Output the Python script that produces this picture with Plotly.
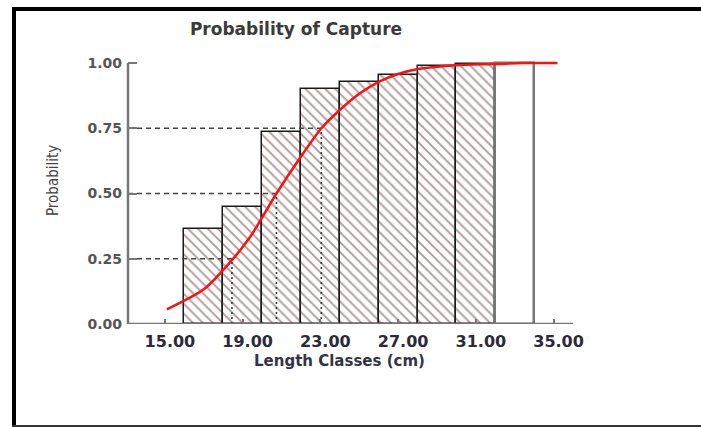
import plotly.graph_objects as go

# ---- data ----
class_mid = [17, 19, 21, 23, 25, 27, 29, 31]
class_prob = [0.364, 0.447, 0.737, 0.899, 0.927, 0.953, 0.988, 0.996]
last_class_mid = [33]
last_class_prob = [1.0]
class_width = 2

curve_x = [15.1, 17.0, 18.45, 19.4, 20.74, 21.94, 23.05, 24.0, 25.0, 26.0, 27.0, 28.1, 30.0, 32.0, 33.4, 35.2]
curve_y = [0.056, 0.133, 0.245, 0.335, 0.50, 0.635, 0.75, 0.82, 0.882, 0.928, 0.958, 0.978, 0.992, 0.996, 1.0, 1.0]

ref_prob = [0.25, 0.50, 0.75]
ref_len = [18.45, 20.74, 23.05]

x_ticks = [15, 19, 23, 27, 31, 35]
y_ticks = [0, 0.25, 0.5, 0.75, 1.0]

x_range = [13.1, 36.0]
y_range = [0, 1.05]

title_text = "Probability of Capture"
x_title = "Length Classes (cm)"
y_title = "Probability"

# ---- figure ----
W, H = 701, 427
ML, MR, MT, MB = 128, 128, 50, 103
pw, ph = W - ML - MR, H - MT - MB

def px_x(p):
    return (p - ML) / pw

def px_y(p):
    return (H - MB - p) / ph

fig = go.Figure()

fig.add_trace(go.Bar(
    x=class_mid, y=class_prob, width=class_width,
    marker=dict(color="white",
                line=dict(color="#1a1a1a", width=1.5),
                pattern=dict(shape="\\", fgcolor="#5e2c2c", bgcolor="white",
                             size=7, solidity=0.25)),
    showlegend=False, hoverinfo="skip"))

fig.add_trace(go.Bar(
    x=last_class_mid, y=last_class_prob, width=class_width,
    marker=dict(color="white", line=dict(color="#777777", width=2.5)),
    showlegend=False, hoverinfo="skip"))

# reference dashed lines
for p, L in zip(ref_prob, ref_len):
    fig.add_trace(go.Scatter(x=[x_range[0], L], y=[p, p], mode="lines",
                             line=dict(color="#444444", width=1.5, dash="5px,4px"),
                             showlegend=False, hoverinfo="skip"))
    fig.add_trace(go.Scatter(x=[L, L], y=[0, p], mode="lines",
                             line=dict(color="#333333", width=1.5, dash="2px,3px"),
                             showlegend=False, hoverinfo="skip"))

fig.add_trace(go.Scatter(x=curve_x, y=curve_y, mode="lines",
                         line=dict(color="#ff1010", width=2.5, shape="spline", smoothing=0.7),
                         showlegend=False, hoverinfo="skip"))

fig.update_layout(
    width=W, height=H,
    margin=dict(l=ML, r=MR, t=MT, b=MB),
    paper_bgcolor="white", plot_bgcolor="white",
    bargap=0,
    title=dict(text=title_text, x=296 / W, xanchor="center", y=1 - 29 / H, yanchor="middle",
               font=dict(family="DejaVu Sans", size=17, color="#3a3a3a", weight="bold")),
    xaxis=dict(range=x_range, tickvals=x_ticks, ticktext=[f"{v:.2f}" for v in x_ticks],
               showgrid=False, zeroline=False, showline=False,
               ticks="inside", ticklen=5, tickwidth=2, tickcolor="#777777",
               ticklabelstandoff=6, ticklabelshift=5,
               tickfont=dict(family="DejaVu Sans", size=16, color="#2a2a3a", weight="bold")),
    yaxis=dict(range=y_range, tickvals=y_ticks, ticktext=[f"{v:.2f}" for v in y_ticks],
               showgrid=False, zeroline=False, showline=False,
               ticks="inside", ticklen=9, tickwidth=2, tickcolor="#777777",
               ticklabelstandoff=5,
               tickfont=dict(family="DejaVu Sans", size=14, color="#555555", weight="bold")),
    annotations=[
        dict(text=x_title, xref="paper", yref="paper", x=px_x(339), y=px_y(361),
             xanchor="center", yanchor="middle", showarrow=False,
             font=dict(family="DejaVu Sans", size=15, color="#333344", weight="bold")),
        dict(text=y_title, xref="paper", yref="paper", x=px_x(53), y=px_y(181),
             xanchor="center", yanchor="middle", showarrow=False, textangle=-90,
             font=dict(family="Liberation Sans Narrow, DejaVu Sans Condensed, Liberation Sans",
                       size=15, color="#444444")),
    ],
    shapes=[
        # axis lines
        dict(type="line", xref="paper", yref="y", x0=0, x1=0, y0=0, y1=1.0,
             line=dict(color="#777777", width=2.5)),
        dict(type="line", xref="paper", yref="y", x0=0, x1=1, y0=0, y1=0,
             line=dict(color="#777777", width=2.5)),
        # frame
        dict(type="line", xref="paper", yref="paper", x0=px_x(14), x1=px_x(14),
             y0=px_y(9), y1=px_y(430), line=dict(color="#000000", width=4)),
        dict(type="line", xref="paper", yref="paper", x0=px_x(12), x1=px_x(705),
             y0=px_y(9), y1=px_y(9), line=dict(color="#000000", width=4)),
        dict(type="line", xref="paper", yref="paper", x0=px_x(12), x1=px_x(705),
             y0=px_y(426), y1=px_y(426), line=dict(color="#333333", width=2)),
    ],
)

fig.write_html("out.html")
